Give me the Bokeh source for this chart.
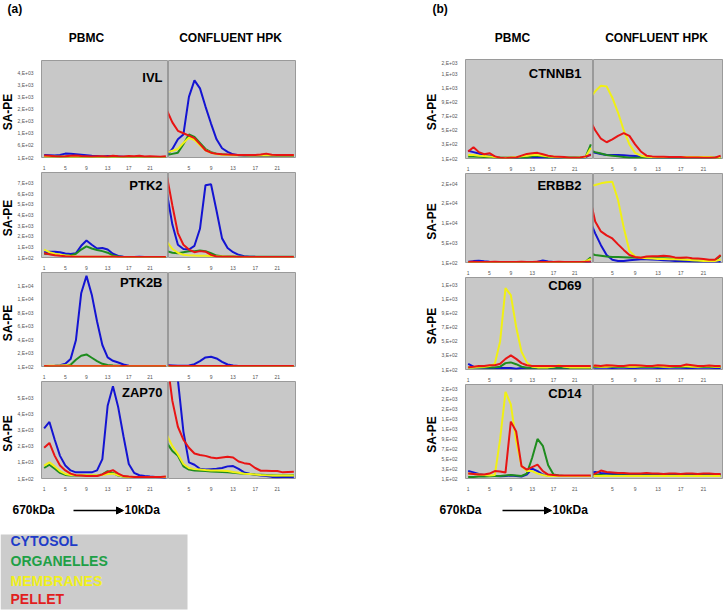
import math
from bokeh.plotting import figure
from bokeh.layouts import row, column
from bokeh.models import Range1d, FixedTicker, Label, Arrow, NormalHead, BoxAnnotation
from bokeh.embed import file_html
from bokeh.resources import INLINE
from bokeh.core.properties import value

FONT = "Liberation Sans"

# ---------------- data ----------------
fractions = list(range(1, 25))
x_ticks = [1, 5, 9, 13, 17, 21]
legend_labels = ["CYTOSOL", "ORGANELLES", "MEMBRANES", "PELLET"]

# (a) IVL
ivl_ticks = [100, 600, 1100, 1600, 2100, 2600, 3100, 3600]
ivl_max = 4100
ivl_pbmc_cyt = [200,190,180,200,260,250,230,210,190,170,160,150,160,150,140,130,130,120,130,120,120,110,110,110]
ivl_pbmc_org = [150,140,140,130,130,130,130,120,120,120,120,120,120,120,120,110,110,110,110,110,110,110,110,110]
ivl_pbmc_mem = [140,130,130,130,130,120,120,120,120,120,120,130,120,120,120,120,130,120,120,120,120,120,120,110]
ivl_pbmc_pel = [180,170,150,140,150,170,180,160,150,140,150,150,140,170,150,140,160,150,170,140,150,140,130,150]
ivl_hpk_cyt = [200,450,850,1050,2600,3280,2950,2200,1500,850,480,330,230,190,180,170,170,160,160,160,160,160,160,160]
ivl_hpk_org = [200,250,300,650,1050,950,700,450,320,260,230,210,200,200,190,190,190,190,190,190,180,180,180,180]
ivl_hpk_mem = [300,380,450,700,920,820,600,400,290,240,210,200,190,190,190,180,180,180,180,180,180,180,180,180]
ivl_hpk_pel = [2050,1550,1200,1100,1000,900,650,400,300,250,230,220,210,200,200,200,200,220,260,210,200,200,200,200]

# (a) PTK2
ptk2_ticks = [100, 1100, 2100, 3100, 4100, 5100, 6100, 7100]
ptk2_max = 8100
ptk2_pbmc_cyt = [600,650,650,600,480,420,500,1200,1700,1300,950,1000,850,450,250,180,150,150,160,150,140,140,140,130]
ptk2_pbmc_org = [450,420,380,330,300,300,450,850,1150,950,800,700,550,300,200,150,140,140,140,140,130,130,130,130]
ptk2_pbmc_mem = [850,600,450,350,280,230,200,180,170,170,160,160,160,160,150,150,150,150,150,150,150,150,150,150]
ptk2_pbmc_pel = [500,400,320,260,220,200,180,170,170,160,160,160,160,160,150,150,150,150,150,150,150,150,150,150]
ptk2_hpk_cyt = [6200,3200,1300,900,850,1200,2800,6900,7000,4500,1900,1000,600,350,220,180,160,150,150,150,150,150,150,150]
ptk2_hpk_org = [700,550,500,600,680,700,750,700,500,280,220,200,190,180,180,180,180,180,180,180,180,180,180,180]
ptk2_hpk_mem = [1600,900,550,350,300,280,270,260,250,220,200,180,170,160,150,150,150,150,150,150,150,150,150,150]
ptk2_hpk_pel = [7800,5000,2400,1300,850,600,700,650,350,200,170,160,160,150,150,150,150,150,150,150,150,150,150,150]

# (a) PTK2B
ptk2b_ticks = [100, 2100, 4100, 6100, 8100, 10100, 12100]
ptk2b_max = 14100
ptk2b_pbmc_cyt = [120,150,200,300,500,1200,4000,11000,13600,10800,6800,3300,1450,950,700,400,200,150,130,120,120,120,120,120]
ptk2b_pbmc_org = [100,100,100,100,150,350,1100,1700,1900,1400,900,500,330,250,200,150,150,150,150,150,150,150,150,150]
ptk2b_pbmc_mem = [180,200,220,250,280,220,180,170,170,170,170,170,170,170,170,170,170,170,170,170,170,170,170,170]
ptk2b_pbmc_pel = [160,150,150,140,150,150,150,140,150,150,150,150,150,150,150,160,150,150,150,150,150,150,150,150]
ptk2b_hpk_cyt = [300,250,200,200,250,450,900,1450,1550,1300,800,400,250,180,160,150,150,150,150,150,150,150,150,150]
ptk2b_hpk_org = [150,140,130,130,130,130,140,150,150,140,130,130,130,130,130,130,130,130,130,130,130,130,130,130]
ptk2b_hpk_mem = [180,170,160,160,160,160,160,160,160,160,160,160,160,160,160,160,160,160,160,160,160,160,160,160]
ptk2b_hpk_pel = [200,180,170,160,160,160,160,160,160,160,170,170,160,160,160,160,160,160,160,160,160,160,160,160]

# (a) ZAP70
zap70_ticks = [100, 1100, 2100, 3100, 4100, 5100]
zap70_max = 6100
zap70_pbmc_cyt = [3200,3600,2500,1500,900,600,480,480,480,480,600,1300,4600,5800,4500,2700,1000,450,300,250,220,200,180,120]
zap70_pbmc_org = [750,950,700,450,320,280,280,280,280,280,280,350,550,450,280,220,200,200,200,200,200,200,200,200]
zap70_pbmc_mem = [900,1100,850,550,380,320,300,300,300,300,300,320,380,400,300,230,200,200,200,200,200,200,200,200]
zap70_pbmc_pel = [2000,2300,1500,900,600,400,300,280,250,250,260,350,500,620,400,250,220,200,200,200,200,200,200,220]
zap70_hpk_cyt = [9000,8000,6200,3000,1100,950,700,650,680,700,750,850,870,700,480,400,330,280,250,200,180,200,190,180]
zap70_hpk_org = [2300,1800,1500,850,650,600,580,560,540,520,500,480,450,420,400,380,350,330,310,300,290,290,290,300]
zap70_hpk_mem = [2800,2100,1600,1000,750,680,650,620,600,590,580,560,500,450,400,380,350,320,300,290,280,280,290,290]
zap70_hpk_pel = [7500,4900,3300,2500,2000,1650,1550,1500,1400,1350,1400,1450,1400,1150,1050,1000,750,580,580,570,560,480,500,520]

# (b) CTNNB1
ctnnb1_ticks = [100, 300, 500, 700, 900, 1100, 1300, 1500]
ctnnb1_max = 1500
ctnnb1_pbmc_cyt = [210,190,170,155,140,125,110,110,110,110,110,110,110,110,110,110,110,110,110,110,110,110,115,160]
ctnnb1_pbmc_org = [130,130,125,120,120,115,110,110,110,110,110,110,130,140,130,115,115,115,115,115,115,115,120,300]
ctnnb1_pbmc_mem = [150,150,140,135,130,120,110,110,115,120,130,140,150,150,140,130,125,120,115,110,110,115,120,250]
ctnnb1_pbmc_pel = [200,260,190,160,175,130,110,105,110,115,140,165,175,180,160,140,130,125,120,110,110,115,130,150]
ctnnb1_hpk_cyt = [200,180,165,150,150,150,145,140,135,125,115,115,115,115,115,115,115,115,115,115,115,115,115,115]
ctnnb1_hpk_org = [220,190,170,150,140,130,120,110,110,110,110,110,110,110,110,110,110,110,110,110,110,110,110,110]
ctnnb1_hpk_mem = [950,1050,1130,1120,960,750,500,300,180,140,125,120,120,120,120,120,120,120,120,120,120,120,115,110]
ctnnb1_hpk_pel = [650,500,380,330,370,420,460,420,300,200,140,130,125,125,120,120,120,115,115,115,110,110,110,140]

# (b) ERBB2
erbb2_ticks = [100, 5100, 10100, 15100, 20100]
erbb2_max = 22700
erbb2_pbmc_cyt = [300,450,550,400,300,250,200,200,200,200,200,200,250,300,600,350,250,200,200,200,200,200,200,300]
erbb2_pbmc_org = [250,250,250,250,250,250,250,250,250,250,250,250,250,250,250,250,250,250,250,250,250,250,300,1400]
erbb2_pbmc_mem = [200,200,200,200,200,200,200,200,200,200,200,200,200,200,200,200,200,200,200,200,200,200,400,1000]
erbb2_pbmc_pel = [250,260,250,240,250,260,250,240,250,250,260,250,250,260,250,250,250,260,250,250,250,250,270,300]
erbb2_hpk_cyt = [11000,7500,4500,2000,800,500,500,700,800,900,900,850,800,700,600,500,450,400,350,300,300,300,300,250]
erbb2_hpk_org = [2400,2000,1800,1600,1500,1500,1450,1400,1350,1300,1300,1250,1200,1150,1100,1000,900,800,700,600,550,550,600,1800]
erbb2_hpk_mem = [19500,19800,20200,20500,20600,16000,9000,3000,1600,1300,1200,1100,1000,1000,950,900,850,800,700,600,500,500,500,800]
erbb2_hpk_pel = [17000,10500,8000,7000,6200,4700,3300,2000,1500,1300,1600,1700,1700,1800,1700,1400,1300,1400,1200,1100,1000,800,800,2000]

# (b) CD69
cd69_ticks = [100, 300, 500, 700, 900, 1100, 1300]
cd69_max = 1400
cd69_pbmc_cyt = [180,140,130,125,120,120,120,120,120,110,120,120,120,120,120,120,120,120,120,120,120,120,120,120]
cd69_pbmc_org = [130,130,130,130,130,130,140,190,200,175,140,125,125,125,125,125,125,125,125,125,125,125,125,125]
cd69_pbmc_mem = [130,130,140,140,150,180,500,1250,1150,700,350,200,140,130,130,130,140,160,140,130,130,130,130,130]
cd69_pbmc_pel = [130,140,150,150,160,160,180,250,300,250,190,160,150,150,150,150,150,150,150,150,150,150,150,150]
cd69_hpk_cyt = [130,125,125,125,120,125,125,120,120,125,125,125,120,120,125,125,125,120,120,125,125,125,120,120]
cd69_hpk_org = [140,135,135,140,140,135,135,140,140,135,135,135,140,140,135,135,135,140,140,135,135,135,135,135]
cd69_hpk_mem = [150,145,140,140,145,150,145,140,140,145,145,150,145,140,140,145,150,145,140,140,145,145,140,140]
cd69_hpk_pel = [150,155,150,160,155,150,150,160,160,155,150,150,160,155,150,150,150,170,160,150,150,155,150,150]

# (b) CD14
cd14_ticks = [100, 300, 500, 700, 900, 1100, 1300, 1500, 1700, 1900]
cd14_max = 2000
cd14_pbmc_cyt = [250,220,190,170,150,150,145,150,160,150,140,180,300,250,180,160,150,150,150,150,150,150,150,150]
cd14_pbmc_org = [130,130,140,140,145,150,150,160,170,160,150,200,520,900,760,370,180,160,150,150,150,150,150,150]
cd14_pbmc_mem = [200,190,180,170,160,170,900,1850,1600,850,350,250,250,200,170,150,150,150,150,150,150,150,150,150]
cd14_pbmc_pel = [200,190,180,180,200,250,240,220,1250,1050,350,280,330,380,250,180,170,160,160,160,160,160,160,160]
cd14_hpk_cyt = [220,230,210,200,190,190,180,180,180,180,190,180,180,180,190,180,180,180,180,180,180,180,180,180]
cd14_hpk_org = [180,170,170,160,160,160,160,160,160,160,160,160,160,160,160,160,160,160,160,160,160,160,160,160]
cd14_hpk_mem = [160,150,150,150,150,150,150,150,150,150,150,150,150,150,150,150,150,150,150,150,150,150,150,150]
cd14_hpk_pel = [150,200,260,230,220,210,210,200,200,200,210,200,200,190,200,200,190,200,200,190,200,200,190,190]

# ---------------- style ----------------
LINE_COLORS = ["#1414d2", "#1e8c1e", "#f0f014", "#e81414"]
LEGEND_COLORS = ["#1e3cc8", "#1ea046", "#f0f01e", "#e11e1e"]
PLOT_BG = "#c8c8c8"
OUTLINE = "#9a9a9a"


def fmt(v):
    return f"{v:.0E}".replace("E", ",E")


def panel(series, y_max, y_ticks, width, height, border_bottom, x_start, x_end, with_y,
          gene=None, gx=-6, gy=-15, border_right=0):
    p = figure(width=width, height=height, x_range=Range1d(x_start, x_end),
               y_range=Range1d(100, y_max), output_backend="svg", toolbar_location=None,
               min_border_top=0, min_border_right=border_right, min_border_bottom=border_bottom,
               min_border_left=20 if with_y else 0,
               y_axis_location="left" if with_y else None,
               background_fill_color=PLOT_BG, border_fill_color="white",
               outline_line_color=OUTLINE, outline_line_width=1)
    p.grid.visible = False
    for vals, c in zip(series, LINE_COLORS):
        p.line(fractions, vals, line_color=c, line_width=2)
    ax = p.xaxis[0]
    ax.ticker = FixedTicker(ticks=x_ticks)
    ax.axis_line_color = None
    ax.major_tick_line_color = None
    ax.minor_tick_line_color = None
    ax.major_label_standoff = 2
    ax.major_label_text_font = FONT
    ax.major_label_text_font_size = "5px"
    ax.major_label_text_color = "#555555"
    if with_y:
        ay = p.yaxis[0]
        ay.ticker = FixedTicker(ticks=y_ticks)
        ay.major_label_overrides = {t: fmt(t) for t in y_ticks}
        ay.axis_line_color = None
        ay.major_tick_line_color = None
        ay.minor_tick_line_color = None
        ay.major_label_standoff = 2
        ay.major_label_text_font = FONT
        ay.major_label_text_font_size = "5px"
        ay.major_label_text_color = "#555555"
    if gene:
        p.add_layout(Label(x=x_end, y=y_max, x_offset=gx, y_offset=gy, text=gene,
                           text_align="right", text_baseline="middle", text_font=FONT,
                           text_font_size="13px", text_font_style="bold", text_color="black"))
    return p


def canvas(width, height):
    p = figure(width=width, height=height, x_range=Range1d(0, width), y_range=Range1d(height, 0),
               output_backend="svg", toolbar_location=None, min_border=0,
               x_axis_location=None, y_axis_location=None, outline_line_color=None,
               background_fill_color="white", border_fill_color="white")
    p.grid.visible = False
    return p


def label_text(p, xs, ys, texts, size, align="left", colors="black", angle=0.0):
    p.text(x=xs, y=ys, text=texts, text_font=value(FONT), text_font_size=value(size),
           text_font_style="bold", text_align=align, text_baseline="middle", text_color=colors,
           angle=angle)


def row_pair(gene, pbmc, hpk, y_max, y_ticks, height, bb, wp, wh, hpk_start, hpk_end, gx, gy, br):
    a = panel(pbmc, y_max, y_ticks, wp, height, bb, 0.5, 24.5, True, gene, gx, gy)
    b = panel(hpk, y_max, y_ticks, wh, height, bb, hpk_start, hpk_end, False, border_right=br)
    return row(a, b)


def sa_pe_column(width, heights, bottoms, x):
    total = sum(heights)
    c = canvas(width, total)
    centers = []
    top = 0
    for h, b in zip(heights, bottoms):
        centers.append(top + (h - b) / 2)
        top += h
    label_text(c, [x] * len(centers), centers, ["SA-PE"] * len(centers), "12px", "center",
               "black", math.pi / 2)
    return c


# ---------------- panel (a) ----------------
head_a = canvas(424, 60)
label_text(head_a, [7], [8], ["(a)"], "12px")
label_text(head_a, [86, 230], [37, 37], ["PBMC", "CONFLUENT HPK"], "12px", "center")

heights_a = [112, 100, 109, 112]
bottoms_a = [9, 9, 8, 8]
rows_a = [
    row_pair("IVL", [ivl_pbmc_cyt, ivl_pbmc_org, ivl_pbmc_mem, ivl_pbmc_pel],
             [ivl_hpk_cyt, ivl_hpk_org, ivl_hpk_mem, ivl_hpk_pel], ivl_max, ivl_ticks,
             heights_a[0], bottoms_a[0], 154, 130, 1.3, 24.3, -6, -17, 3),
    row_pair("PTK2", [ptk2_pbmc_cyt, ptk2_pbmc_org, ptk2_pbmc_mem, ptk2_pbmc_pel],
             [ptk2_hpk_cyt, ptk2_hpk_org, ptk2_hpk_mem, ptk2_hpk_pel], ptk2_max, ptk2_ticks,
             heights_a[1], bottoms_a[1], 154, 130, 1.3, 24.3, -6, -13, 3),
    row_pair("PTK2B", [ptk2b_pbmc_cyt, ptk2b_pbmc_org, ptk2b_pbmc_mem, ptk2b_pbmc_pel],
             [ptk2b_hpk_cyt, ptk2b_hpk_org, ptk2b_hpk_mem, ptk2b_hpk_pel], ptk2b_max, ptk2b_ticks,
             heights_a[2], bottoms_a[2], 154, 130, 1.3, 24.3, -6, -10, 3),
    row_pair("ZAP70", [zap70_pbmc_cyt, zap70_pbmc_org, zap70_pbmc_mem, zap70_pbmc_pel],
             [zap70_hpk_cyt, zap70_hpk_org, zap70_hpk_mem, zap70_hpk_pel], zap70_max, zap70_ticks,
             heights_a[3], bottoms_a[3], 154, 130, 1.3, 24.3, -6, -11, 3),
]
side_a = sa_pe_column(14, heights_a, bottoms_a, 7)

foot_a = canvas(424, 117)
foot_a.add_layout(BoxAnnotation(left=0, right=187, top=41, bottom=116, fill_color="#cccccc",
                                fill_alpha=1.0, line_color=None, level="underlay"))
label_text(foot_a, [12, 124], [16, 16], ["670kDa", "10kDa"], "12px")
foot_a.add_layout(Arrow(x_start=73, y_start=17, x_end=123, y_end=17, line_width=1.5,
                        end=NormalHead(size=7, fill_color="black", line_color="black")))
label_text(foot_a, [10, 10, 10, 10], [47, 67, 87, 105], legend_labels, "14px", "left", LEGEND_COLORS)

col_a = column(head_a, row(side_a, column(*rows_a)), foot_a)

# ---------------- panel (b) ----------------
head_b = canvas(299, 59)
label_text(head_b, [8], [8], ["(b)"], "12px")
label_text(head_b, [88, 232], [37, 37], ["PBMC", "CONFLUENT HPK"], "12px", "center")

heights_b = [114, 104, 107, 109]
bottoms_b = [9, 8, 10, 9]
rows_b = [
    row_pair("CTNNB1", [ctnnb1_pbmc_cyt, ctnnb1_pbmc_org, ctnnb1_pbmc_mem, ctnnb1_pbmc_pel],
             [ctnnb1_hpk_cyt, ctnnb1_hpk_org, ctnnb1_hpk_mem, ctnnb1_hpk_pel], ctnnb1_max, ctnnb1_ticks,
             heights_b[0], bottoms_b[0], 155, 130, 1.7, 24.5, -12, -14, 0),
    row_pair("ERBB2", [erbb2_pbmc_cyt, erbb2_pbmc_org, erbb2_pbmc_mem, erbb2_pbmc_pel],
             [erbb2_hpk_cyt, erbb2_hpk_org, erbb2_hpk_mem, erbb2_hpk_pel], erbb2_max, erbb2_ticks,
             heights_b[1], bottoms_b[1], 155, 130, 1.7, 24.5, -12, -12, 0),
    row_pair("CD69", [cd69_pbmc_cyt, cd69_pbmc_org, cd69_pbmc_mem, cd69_pbmc_pel],
             [cd69_hpk_cyt, cd69_hpk_org, cd69_hpk_mem, cd69_hpk_pel], cd69_max, cd69_ticks,
             heights_b[2], bottoms_b[2], 155, 130, 1.7, 24.5, -12, -8, 0),
    row_pair("CD14", [cd14_pbmc_cyt, cd14_pbmc_org, cd14_pbmc_mem, cd14_pbmc_pel],
             [cd14_hpk_cyt, cd14_hpk_org, cd14_hpk_mem, cd14_hpk_pel], cd14_max, cd14_ticks,
             heights_b[3], bottoms_b[3], 155, 130, 1.7, 24.5, -12, -9, 0),
]
side_b = sa_pe_column(14, heights_b, bottoms_b, 7)

foot_b = canvas(299, 117)
label_text(foot_b, [15, 128], [16, 16], ["670kDa", "10kDa"], "12px")
foot_b.add_layout(Arrow(x_start=78, y_start=17, x_end=127, y_end=17, line_width=1.5,
                        end=NormalHead(size=7, fill_color="black", line_color="black")))

col_b = column(head_b, row(side_b, column(*rows_b)), foot_b)

layout = row(col_a, col_b)

open("out.html", "w").write(file_html(layout, INLINE))
